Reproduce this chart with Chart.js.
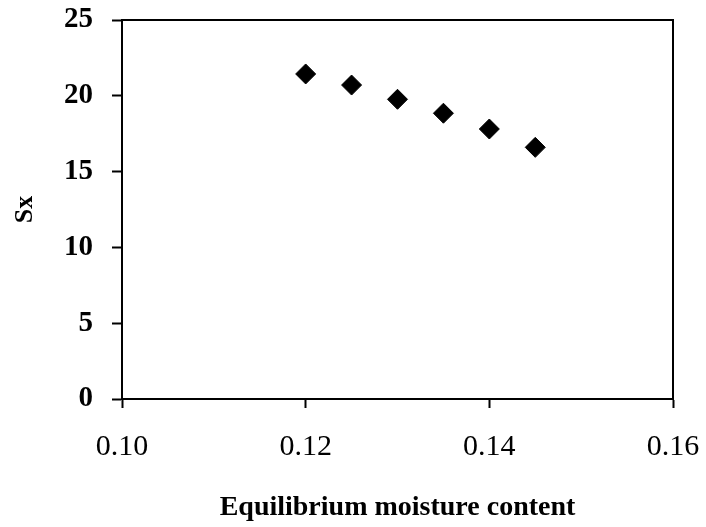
<!DOCTYPE html>
<html>
<head>
<meta charset="utf-8">
<script src="https://cdn.jsdelivr.net/npm/chart.js@4/dist/chart.umd.min.js"></script>
<style>
  html, body { margin: 0; padding: 0; background: #ffffff; }
  #wrap { width: 706px; height: 527px; position: relative; }
</style>
</head>
<body>
<div id="wrap"><canvas id="c"></canvas></div>
<script>
// Data
const moistureContent = [0.12, 0.125, 0.13, 0.135, 0.14, 0.145];
const sxValues = [21.44, 20.71, 19.77, 18.85, 17.81, 16.60];
const xTickValues = [0.10, 0.12, 0.14, 0.16];
const yTickValues = [0, 5, 10, 15, 20, 25];
const xTitle = 'Equilibrium moisture content';
const yTitle = 'Sx';

const points = moistureContent.map((x, i) => ({ x: x, y: sxValues[i] }));

const framePlugin = {
  id: 'frame',
  afterDatasetsDraw(chart) {
    const a = chart.chartArea, ctx = chart.ctx;
    ctx.save();
    ctx.strokeStyle = '#000';
    ctx.lineWidth = 2;
    ctx.beginPath();
    ctx.moveTo(a.left, a.top);
    ctx.lineTo(a.right, a.top);
    ctx.lineTo(a.right, a.bottom);
    ctx.stroke();
    ctx.restore();
  }
};

new Chart(document.getElementById('c'), {
  type: 'scatter',
  data: {
    datasets: [{
      data: points,
      pointStyle: 'rectRot',
      pointRadius: 10,
      pointHoverRadius: 10,
      backgroundColor: '#000',
      borderColor: '#000',
      borderWidth: 1
    }]
  },
  options: {
    responsive: true,
    maintainAspectRatio: false,
    animation: false,
    events: [],
    layout: { padding: { left: 0, right: 33, top: 20, bottom: 0 } },
    plugins: { legend: { display: false }, tooltip: { enabled: false } },
    scales: {
      x: {
        type: 'linear',
        min: 0.10, max: 0.16,
        afterFit(s) { s.height = 128; s.paddingLeft = 0; s.paddingRight = 0; },
        afterBuildTicks(s) { s.ticks = xTickValues.map(v => ({ value: v })); },
        grid: { drawOnChartArea: false, drawTicks: true, tickLength: 9, tickWidth: 2, color: '#000' },
        border: { display: true, color: '#000', width: 2 },
        ticks: {
          color: '#000',
          padding: 21,
          maxRotation: 0,
          font: { family: 'Liberation Serif', size: 30 },
          callback: v => v.toFixed(2)
        },
        title: {
          display: true,
          text: xTitle,
          color: '#000',
          font: { family: 'Liberation Serif', size: 28, weight: 'bold' },
          padding: { top: 0, bottom: 2 }
        }
      },
      y: {
        type: 'linear',
        min: 0, max: 25,
        afterFit(s) { s.width = 122; s.paddingTop = 0; s.paddingBottom = 0; },
        afterBuildTicks(s) { s.ticks = yTickValues.map(v => ({ value: v })); },
        grid: { drawOnChartArea: false, drawTicks: true, tickLength: 10, tickWidth: 2, color: '#000' },
        border: { display: true, color: '#000', width: 2 },
        ticks: {
          color: '#000',
          padding: 19,
          font: { family: 'Liberation Serif', size: 29, weight: 'bold' }
        },
        title: {
          display: true,
          text: yTitle,
          color: '#000',
          font: { family: 'Liberation Serif', size: 26, weight: 'bold' },
          padding: { top: 10, bottom: 0 }
        }
      }
    }
  },
  plugins: [framePlugin]
});
</script>
</body>
</html>
